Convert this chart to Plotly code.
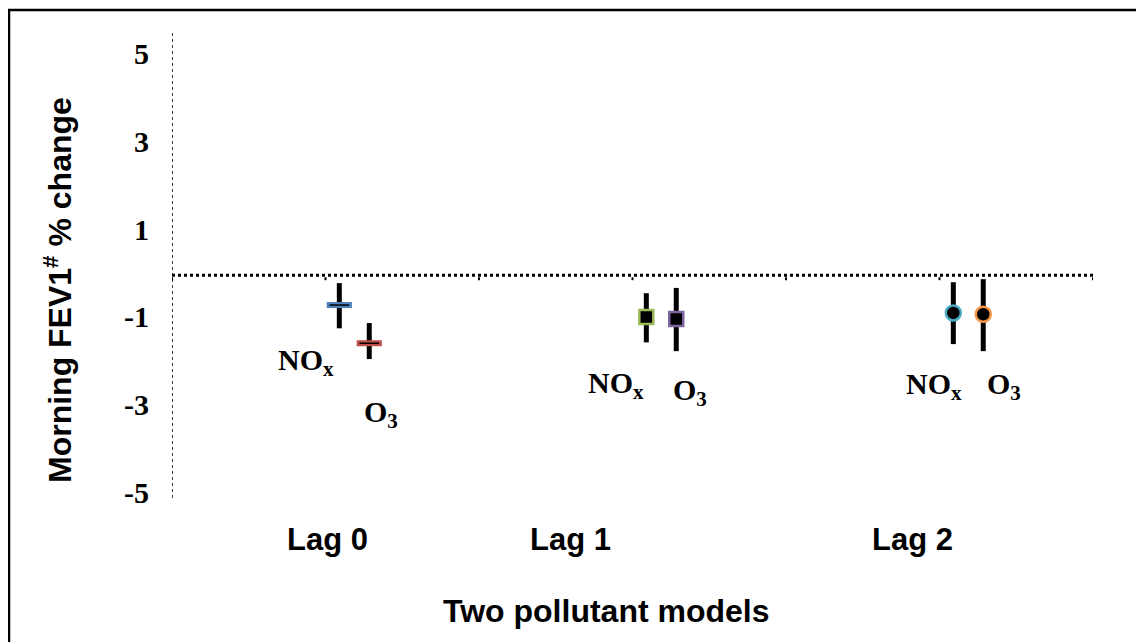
import plotly.graph_objects as go

# ---- data ----
lags = ["Lag 0", "Lag 1", "Lag 2"]
pollutants = ["NOx", "O3"]
nox_est = [-0.73, -1.00, -0.91]
nox_lo = [-1.26, -1.58, -1.62]
nox_hi = [-0.23, -0.46, -0.21]
o3_est = [-1.60, -1.05, -0.94]
o3_lo = [-1.96, -1.78, -1.78]
o3_hi = [-1.14, -0.34, -0.14]
y_ticks = [5, 3, 1, -1, -3, -5]

# ---- layout constants ----
W, H = 1144, 642
PAGE_OFF = 8  # default body margin of the html page
ML, MT = 164, 22
PW, PH = 921, 468
MR, MB = W - ML - PW, H - MT - PH
group_pos = [1, 3, 5]
offset = {"NOx": 0.09, "O3": 0.285}
nox_colors = ["#4F81BD", "#9BBB59", "#4BACC6"]
o3_colors = ["#C0504D", "#8064A2", "#F79646"]
symbols = ["line-ew", "square", "circle"]


def px(sx):
    return (sx - PAGE_OFF - ML) / PW


def py(sy):
    return 1 - (sy - PAGE_OFF - MT) / PH


fig = go.Figure()


def add_series(name, est, lo, hi, colors):
    for i in range(len(lags)):
        x = group_pos[i] + offset[name]
        e = est[i]
        fig.add_trace(go.Scatter(
            x=[x], y=[e], mode="markers",
            marker=dict(size=1, color="rgba(0,0,0,0)"),
            error_y=dict(type="data", symmetric=False,
                         array=[hi[i] - e], arrayminus=[e - lo[i]],
                         color="black", thickness=5, width=0),
            showlegend=False, hoverinfo="skip"))
        if symbols[i] == "line-ew":
            fig.add_trace(go.Scatter(
                x=[x], y=[e], mode="markers",
                marker=dict(symbol="line-ew", size=18,
                            line=dict(color=colors[i], width=6)),
                showlegend=False))
            fig.add_trace(go.Scatter(
                x=[x], y=[e], mode="markers",
                marker=dict(symbol="line-ew", size=14,
                            line=dict(color="black", width=1.5)),
                showlegend=False))
        else:
            fig.add_trace(go.Scatter(
                x=[x], y=[e], mode="markers",
                marker=dict(symbol=symbols[i], size=14 if symbols[i] == "square" else 15,
                            color="black",
                            line=dict(color=colors[i], width=2.5)),
                showlegend=False))


add_series("NOx", nox_est, nox_lo, nox_hi, nox_colors)
add_series("O3", o3_est, o3_lo, o3_hi, o3_colors)

# dotted axis lines
fig.add_shape(type="line", xref="x", yref="paper", x0=0, x1=0, y0=0, y1=1,
              line=dict(color="black", width=1.5, dash="dot"))
fig.add_shape(type="line", xref="x", yref="y", x0=0, x1=6, y0=-0.05, y1=-0.05,
              line=dict(color="black", width=3, dash="dot"))
for t in range(0, 7):
    fig.add_shape(type="line", xref="x", yref="y", ysizemode="pixel", yanchor=-0.05,
                  x0=t, x1=t, y0=-2, y1=-8,
                  line=dict(color="black", width=2, dash="dot"))

serif = "Liberation Serif, Times New Roman, serif"
sans = "Liberation Sans, Arial, sans-serif"

# pollutant labels (screen px centres)
nox_lab = [(306, 362), (616, 385), (934, 386)]
o3_lab = [(381, 414), (690, 392), (1004, 386)]
for i in range(3):
    fig.add_annotation(xref="paper", yref="paper", x=px(nox_lab[i][0]), y=py(nox_lab[i][1]),
                       text="<b>NO<sub>x</sub></b>", showarrow=False,
                       xanchor="center", yanchor="middle",
                       font=dict(family=serif, size=30, color="black"))
    fig.add_annotation(xref="paper", yref="paper", x=px(o3_lab[i][0]), y=py(o3_lab[i][1]),
                       text="<b>O<sub>3</sub></b>", showarrow=False,
                       xanchor="center", yanchor="middle",
                       font=dict(family=serif, size=30, color="black"))

# lag labels
lag_label_x = [327, 570, 912]
for i, lab in enumerate(lags):
    fig.add_annotation(xref="paper", yref="paper", x=px(lag_label_x[i]), y=py(539),
                       text=f"<b>{lab}</b>", showarrow=False,
                       xanchor="center", yanchor="middle",
                       font=dict(family=sans, size=31, color="black"))

# axis titles
fig.add_annotation(xref="paper", yref="paper", x=px(606), y=py(611),
                   text="<b>Two pollutant models</b>", showarrow=False,
                   xanchor="center", yanchor="middle",
                   font=dict(family=sans, size=32, color="black"))
fig.add_annotation(xref="paper", yref="paper", x=px(58), y=py(290),
                   text="<b>Morning FEV1<sup>#</sup> % change</b>", showarrow=False,
                   textangle=-90, xanchor="center", yanchor="middle",
                   font=dict(family=sans, size=32, color="black"))

# border
fig.add_shape(type="rect", xref="paper", yref="paper",
              x0=px(9), x1=px(1170), y0=py(670), y1=py(10),
              line=dict(color="black", width=2.5))

fig.update_layout(
    width=W, height=H,
    margin=dict(l=ML, r=MR, t=MT, b=MB),
    plot_bgcolor="white", paper_bgcolor="white",
    showlegend=False,
    xaxis=dict(range=[0, 6], showgrid=False, zeroline=False, showline=False,
               showticklabels=False, ticks=""),
    yaxis=dict(range=[-5.125, 5.535], showgrid=False, zeroline=False, showline=False,
               tickvals=y_ticks, ticktext=[f"<b>{v}</b>" for v in y_ticks],
               tickfont=dict(family=serif, size=30, color="black"), ticks="",
               ticklabelstandoff=22),
)

fig.write_html("out.html")
